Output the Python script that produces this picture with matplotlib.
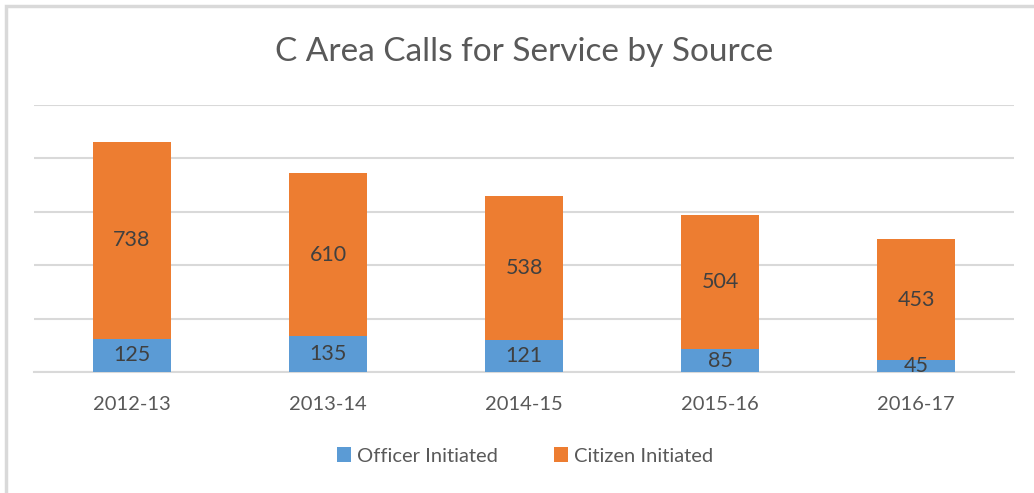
import matplotlib.pyplot as plt
from matplotlib.patches import Rectangle

years = ['2012-13', '2013-14', '2014-15', '2015-16', '2016-17']
officer = [125, 135, 121, 85, 45]
citizen = [738, 610, 538, 504, 453]

blue = '#5B9BD5'
orange = '#ED7D31'
grey = '#595959'

plt.rcParams['font.family'] = ['Lato', 'DejaVu Sans']

fig = plt.figure(figsize=(10.34, 4.93), dpi=100)
ax = fig.add_axes([0.0329, 0.2454, 0.9478, 0.5416])

# chart border (cut off on right and bottom in the original)
fig.patches.append(Rectangle((6 / 1034, -0.1), 1.2, 1 - 6 / 493 + 0.1,
                             transform=fig.transFigure, fill=False,
                             edgecolor='#D9D9D9', linewidth=2.5))

x = range(len(years))
b1 = ax.bar(x, officer, width=0.4, color=blue, label='Officer Initiated', zorder=3)
b2 = ax.bar(x, citizen, width=0.4, bottom=officer, color=orange,
            label='Citizen Initiated', zorder=3)
ax.bar_label(b1, label_type='center', color='#404040', fontsize=15.5)
ax.bar_label(b2, label_type='center', color='#404040', fontsize=15.5)

ax.set_xlim(-0.5, len(years) - 0.5)
ax.set_ylim(0, 1000)
ax.set_yticks([0, 200, 400, 600, 800, 1000])
ax.yaxis.grid(True, color='#D9D9D9', linewidth=1.5, zorder=0)
ax.tick_params(axis='y', left=False, labelleft=False)
ax.tick_params(axis='x', bottom=False, labelsize=14.5, labelcolor=grey, pad=14)
ax.set_xticks(list(x))
ax.set_xticklabels(years)
for s in ['top', 'right', 'left']:
    ax.spines[s].set_visible(False)
ax.spines['bottom'].set_color('#D9D9D9')
ax.spines['bottom'].set_linewidth(1.5)

fig.text(0.507, 0.895, 'C Area Calls for Service by Source', ha='center',
         va='center', fontsize=24, color=grey)

fig.legend(handles=[b1, b2], loc='center', bbox_to_anchor=(0.508, 0.075),
           ncol=2, frameon=False, fontsize=14.5, labelcolor=grey,
           handlelength=0.7, handleheight=0.7, handletextpad=0.3,
           columnspacing=2.8)

fig.savefig('out.png', dpi=100)
